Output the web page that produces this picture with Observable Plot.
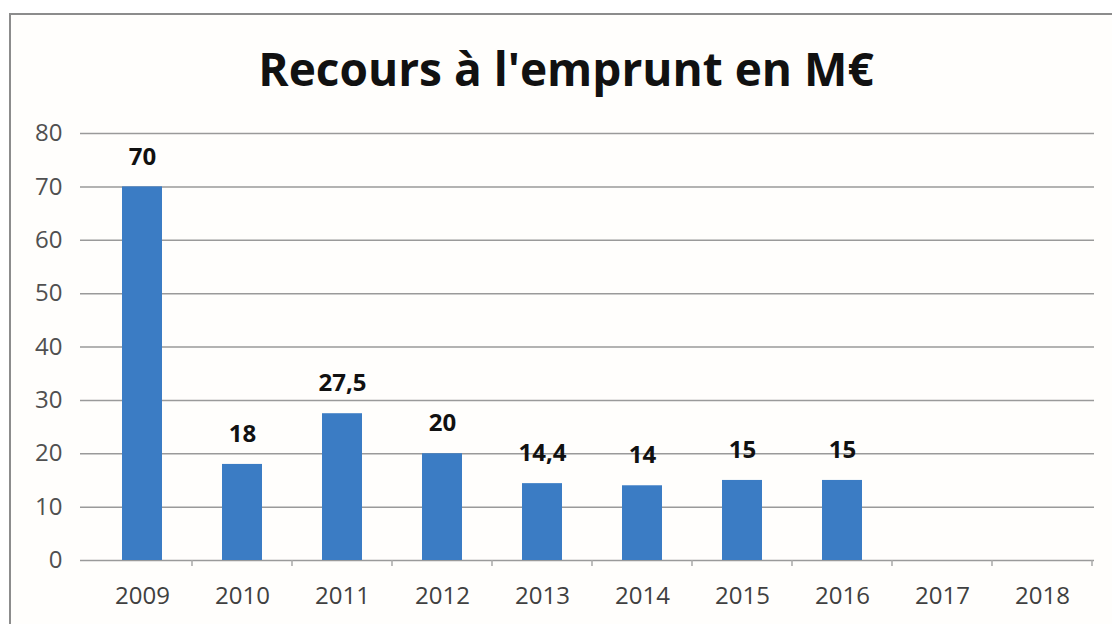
<!DOCTYPE html>
<html><head><meta charset="utf-8">
<script src="https://cdn.jsdelivr.net/npm/d3@7"></script>
<script src="https://cdn.jsdelivr.net/npm/@observablehq/plot@0.6"></script>
<style>
html,body{margin:0;padding:0;background:#fff;width:1112px;height:624px;overflow:hidden;}
#frame{position:absolute;left:9px;top:13px;width:1200px;height:700px;border-left:2px solid #8c8c8c;border-top:2px solid #8c8c8c;background:#fffefc;}
#title{position:absolute;left:0;width:1132px;top:37px;text-align:center;font-family:"Open Sans",sans-serif;font-weight:bold;font-size:46px;color:#111;}
#chart{position:absolute;left:0;top:110px;}
</style></head>
<body>
<div id="frame"></div>
<div id="title">Recours à l'emprunt en M€</div>
<div id="chart"></div>
<script>
const years = ["2009","2010","2011","2012","2013","2014","2015","2016","2017","2018"];
const values = [70, 18, 27.5, 20, 14.4, 14, 15, 15, null, null];
const yTicks = [0,10,20,30,40,50,60,70,80];

const data = years.map((y,i)=>({year:y, value:values[i]}));
const bars = data.filter(d=>d.value!=null);
const fmt = v => String(v).replace(".", ",");

const bandTicks = (index, scales) => {
  const g = d3.create("svg:g");
  const x = scales.x, y0 = scales.y(0);
  const step = x.step();
  const pad = (step - x.bandwidth())/2;
  const xs = years.slice(1).map(d => x(d) - pad);
  xs.push(x(years[years.length-1]) + x.bandwidth() + pad);
  for (const bx of xs) {
    g.append("line").attr("x1",bx).attr("x2",bx).attr("y1",y0).attr("y2",y0+6)
      .attr("stroke","#a8a8a8").attr("stroke-width",1.5);
  }
  return g.node();
};

const chart = Plot.plot({
  width: 1112,
  height: 514,
  marginTop: 23,
  marginBottom: 64,
  marginLeft: 80,
  marginRight: 18,
  style: {background: "transparent", fontFamily: "'Open Sans', sans-serif"},
  x: {domain: years, range: [90, 1093], paddingInner: 0.6, paddingOuter: 0.3, label: null},
  y: {domain: [0, 80], ticks: yTicks, label: null},
  marks: [
    Plot.ruleY(yTicks, {stroke: "#9a9a9a", strokeWidth: 1.5, strokeOpacity: 1}),
    Plot.barY(bars, {x: "year", y: "value", fill: "#3b7cc4"}),
    Plot.text(bars, {x: "year", y: "value", text: d => fmt(d.value), dy: -30, fontSize: 24, fontWeight: "bold", fill: "#111", fontFamily: "'Open Sans', sans-serif"}),
    bandTicks,
    Plot.axisY({ticks: yTicks, tickSize: 0, tickPadding: 18, fontSize: 24, fill: "#505050", label: null}),
    Plot.axisX({tickSize: 0, tickPadding: 26, fontSize: 24, fill: "#404040", label: null})
  ]
});
document.getElementById("chart").appendChild(chart);
</script>
</body></html>
